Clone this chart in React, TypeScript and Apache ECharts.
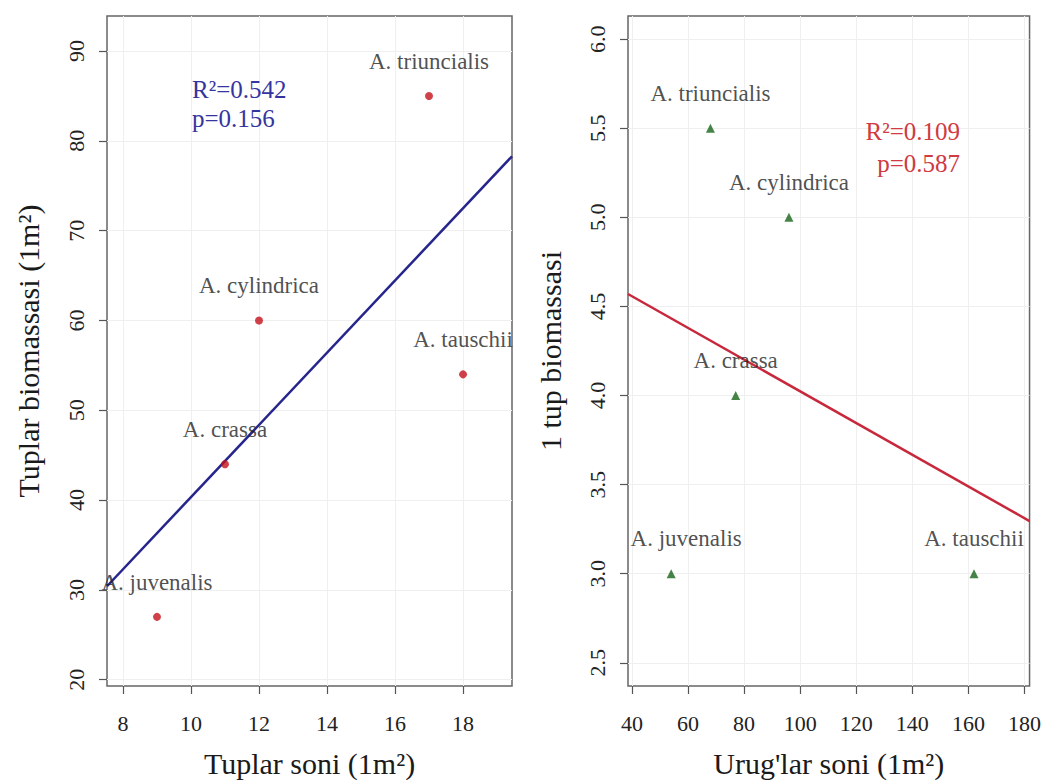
import React, { useEffect, useRef } from "react";
import * as echarts from "echarts";

// ---- Data ----
const leftNames = ["A. triuncialis", "A. cylindrica", "A. tauschii", "A. crassa", "A. juvenalis"];
const tuplarSoni = [17, 12, 18, 11, 9];
const tuplarBiomassa = [85, 60, 54, 44, 27];

const rightNames = ["A. triuncialis", "A. cylindrica", "A. crassa", "A. juvenalis", "A. tauschii"];
const urugSoni = [68, 96, 77, 54, 162];
const tupBiomassa = [5.5, 5.0, 4.0, 3.0, 3.0];

const leftXTicks = [8, 10, 12, 14, 16, 18];
const leftYTicks = [20, 30, 40, 50, 60, 70, 80, 90];
const rightXTicks = [40, 60, 80, 100, 120, 140, 160, 180];
const rightYTicks = [2.5, 3.0, 3.5, 4.0, 4.5, 5.0, 5.5, 6.0];

const leftStats = ["R²=0.542", "p=0.156"];
const rightStats = ["R²=0.109", "p=0.587"];

const leftXTitle = "Tuplar soni (1m²)";
const leftYTitle = "Tuplar biomassasi (1m²)";
const rightXTitle = "Urug'lar soni (1m²)";
const rightYTitle = "1 tup biomassasi";

// ---- Layout / style ----
const LX = [7.53, 19.44];
const LY = [19.3, 93.9];
const RX = [38.6, 181.8];
const RY = [2.37, 6.13];
const rightLabelShift = [[0, 0], [0, 0], [0, 0], [15, 0], [0, 0]];

const FONT = "Liberation Serif";

function fit(xs: number[], ys: number[]) {
  const n = xs.length;
  const mx = xs.reduce((a, b) => a + b, 0) / n;
  const my = ys.reduce((a, b) => a + b, 0) / n;
  let sxy = 0, sxx = 0;
  for (let i = 0; i < n; i++) {
    sxy += (xs[i] - mx) * (ys[i] - my);
    sxx += (xs[i] - mx) * (xs[i] - mx);
  }
  const b = sxy / sxx;
  return { a: my - b * mx, b };
}

export default function App() {
  const ref = useRef<HTMLDivElement>(null);
  useEffect(() => {
    if (!ref.current) return;
    const chart = echarts.init(ref.current, null, { renderer: "svg" });
    const lf = fit(tuplarSoni, tuplarBiomassa);
    const rf = fit(urugSoni, tupBiomassa);

    const axisCommon = (ticks: number[], fmt?: (v: number) => string) => ({
      type: "value",
      scale: true,
      axisLine: { show: false },
      axisTick: { show: true, length: 8, customValues: ticks, lineStyle: { color: "#555", width: 1.2 } },
      axisLabel: {
        customValues: ticks,
        color: "#222",
        fontFamily: FONT,
        fontSize: 22,
        formatter: fmt || ((v: number) => String(v)),
      },
      splitLine: { show: true, lineStyle: { color: "#efefef", width: 1 } },
      nameLocation: "middle",
      nameTextStyle: { fontFamily: FONT, fontSize: 30, color: "#1a1a1a" },
    });

    const labelStyle = {
      show: true,
      position: "top",
      distance: 19,
      color: "#222",
      fontFamily: FONT,
      fontSize: 23,
    };

    const option: any = {
      animation: false,
      backgroundColor: "#fff",
      textStyle: { fontFamily: FONT },
      grid: [
        { left: 107, top: 16, width: 405, height: 673, show: true, borderColor: "#666", borderWidth: 1.5, backgroundColor: "transparent" },
        { left: 628, top: 16, width: 404, height: 672, show: true, borderColor: "#666", borderWidth: 1.5, backgroundColor: "transparent" },
      ],
      xAxis: [
        { ...axisCommon(leftXTicks), gridIndex: 0, min: LX[0], max: LX[1], name: leftXTitle, nameGap: 62,
          axisLabel: { ...axisCommon(leftXTicks).axisLabel, margin: 26 } },
        { ...axisCommon(rightXTicks), gridIndex: 1, min: RX[0], max: RX[1], name: rightXTitle, nameGap: 62,
          axisLabel: { ...axisCommon(rightXTicks).axisLabel, margin: 26 } },
      ],
      yAxis: [
        { ...axisCommon(leftYTicks), gridIndex: 0, min: LY[0], max: LY[1], name: leftYTitle, nameGap: 64,
          axisLabel: { ...axisCommon(leftYTicks).axisLabel, rotate: 90, margin: 20 } },
        { ...axisCommon(rightYTicks, (v: number) => v.toFixed(1)), gridIndex: 1, min: RY[0], max: RY[1], name: rightYTitle, nameGap: 63,
          axisLabel: { ...axisCommon(rightYTicks, (v: number) => v.toFixed(1)).axisLabel, rotate: 90, margin: 20 } },
      ],
      series: [
        {
          type: "line",
          xAxisIndex: 0,
          yAxisIndex: 0,
          data: [[LX[0], lf.a + lf.b * LX[0]], [LX[1], lf.a + lf.b * LX[1]]],
          showSymbol: false,
          symbol: "none",
          lineStyle: { color: "#25258c", width: 2.5 },
          z: 3,
        },
        {
          type: "scatter",
          xAxisIndex: 0,
          yAxisIndex: 0,
          symbol: "circle",
          symbolSize: 8,
          itemStyle: { color: "#c3101a" },
          data: tuplarSoni.map((x, i) => ({ value: [x, tuplarBiomassa[i]], name: leftNames[i] })),
          label: { ...labelStyle, formatter: (p: any) => p.name },
          z: 4,
        },
        {
          type: "line",
          xAxisIndex: 1,
          yAxisIndex: 1,
          data: [[RX[0], rf.a + rf.b * RX[0]], [RX[1], rf.a + rf.b * RX[1]]],
          showSymbol: false,
          symbol: "none",
          lineStyle: { color: "#c8283c", width: 2.5 },
          z: 3,
        },
        {
          type: "scatter",
          xAxisIndex: 1,
          yAxisIndex: 1,
          symbol: "triangle",
          symbolSize: 9,
          itemStyle: { color: "#186418" },
          data: urugSoni.map((x, i) => ({
            value: [x, tupBiomassa[i]],
            name: rightNames[i],
            label: { offset: rightLabelShift[i] },
          })),
          label: { ...labelStyle, formatter: (p: any) => p.name },
          z: 4,
        },
      ],
      graphic: [
        { type: "text", z: 100, left: 192, top: 77, style: { text: leftStats[0], fill: "#3535a0", font: `25px "${FONT}"` } },
        { type: "text", z: 100, left: 192, top: 106, style: { text: leftStats[1], fill: "#3535a0", font: `25px "${FONT}"` } },
        { type: "text", z: 100, right: 84, top: 119, style: { text: rightStats[0], fill: "#d03a40", font: `25px "${FONT}"`, textAlign: "right" } },
        { type: "text", z: 100, right: 84, top: 151, style: { text: rightStats[1], fill: "#d03a40", font: `25px "${FONT}"`, textAlign: "right" } },
      ],
    };
    chart.setOption(option);
    return () => chart.dispose();
  }, []);
  return <div ref={ref} style={{ position: "absolute", left: 0, top: 0, width: 1044, height: 783 }} />;
}
